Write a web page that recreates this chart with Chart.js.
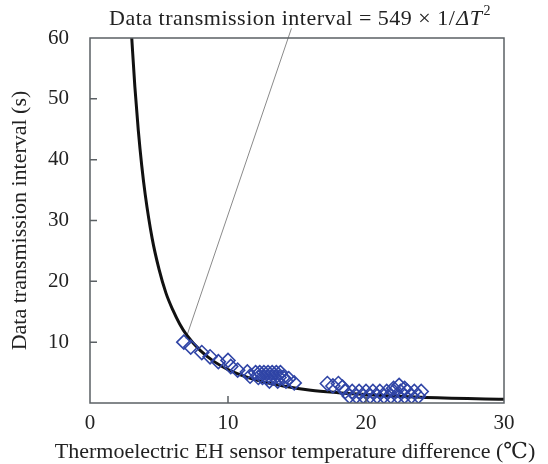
<!DOCTYPE html>
<html><head><meta charset="utf-8">
<script src="https://cdn.jsdelivr.net/npm/chart.js@4/dist/chart.umd.min.js"></script>
<style>html,body{margin:0;padding:0;background:#fff;}#wrap{width:548px;height:464px;}</style>
</head><body><div id="wrap"><canvas id="c" width="548" height="464"></canvas></div>
<script>
const xTicks = [0, 10, 20, 30];
const yTicks = [10, 20, 30, 40, 50, 60];
const measuredX = [6.8,7.3,8.1,8.7,9.3,10.0,10.2,10.7,11.4,11.6,
  12.0,12.3,12.6,12.9,13.2,13.5,13.8,12.2,12.5,12.8,13.1,13.4,13.7,14.0,13.0,13.6,14.2,14.4,14.8,
  17.2,17.6,18.0,18.3,22.0,22.4,22.8,
  18.5,19.0,19.5,20.0,20.5,21.0,21.5,22.0,22.5,23.0,23.5,24.0,
  18.8,19.3,19.8,20.3,20.8,21.3,21.8,22.3,22.8,23.3,23.8];
const measuredY = [10.0,9.2,8.3,7.6,6.8,7.0,6.0,5.4,5.1,4.4,
  5.0,5.0,5.0,5.0,5.0,5.0,5.0,4.2,4.2,4.2,4.2,4.2,4.2,4.2,3.6,3.6,3.6,4.0,3.3,
  3.2,2.8,3.2,2.6,2.4,2.9,2.4,
  1.9,1.9,1.9,1.9,1.9,1.9,1.9,1.9,1.9,1.9,1.9,1.9,
  1.1,1.1,1.1,1.1,1.1,1.1,1.1,1.1,1.1,1.1,1.1];
const fitX = [3.02,3.25,3.5,3.75,4,4.5,5,5.5,6,6.5,7,8,9,10,12,14,16,18,20,24,30];
const fitY = [60.2,52.0,44.8,39.0,34.3,27.1,22.0,18.1,15.3,13.0,11.2,8.6,6.8,5.5,3.8,2.8,2.1,1.7,1.4,0.95,0.61];
const leaderX = [6.95, 14.6];
const leaderY = [10.6, 61.6];
const formulaText = ['Data transmission interval = 549 \u00d7 1/', '\u0394T', '2'];
const xTitle = 'Thermoelectric EH sensor temperature difference (\u2103)';
const yTitle = 'Data transmission interval (s)';

const pts = (xs, ys) => xs.map((x, i) => ({x: x, y: ys[i]}));
const axisColor = '#5b6064';
const SERIF = '"Liberation Serif", "DejaVu Serif", serif';

const framePlugin = {
  id: 'frame',
  afterDatasetsDraw(chart) {
    const {ctx, chartArea: a, scales: {x, y}} = chart;
    ctx.save();
    ctx.strokeStyle = axisColor;
    ctx.lineWidth = 1.5;
    ctx.strokeRect(a.left, a.top, a.right - a.left, a.bottom - a.top);
    ctx.beginPath();
    xTicks.forEach(v => { const p = x.getPixelForValue(v); if (v > 0 && v < 30) { ctx.moveTo(p, a.bottom); ctx.lineTo(p, a.bottom - 7); } });
    yTicks.forEach(v => { const p = y.getPixelForValue(v); if (v < 60) { ctx.moveTo(a.left, p); ctx.lineTo(a.left + 7, p); } });
    ctx.stroke();
    ctx.fillStyle = '#222';
    ctx.textBaseline = 'alphabetic';
    ctx.font = '22px ' + SERIF;
    ctx.textAlign = 'center';
    ctx.fillText(xTitle, (a.left + a.right) / 2 - 2, 458);
    ctx.textAlign = 'left';
    ctx.letterSpacing = '0.5px';
    let tx = 109, ty = 25;
    ctx.fillText(formulaText[0], tx, ty);
    tx += ctx.measureText(formulaText[0]).width + 1;
    ctx.font = 'italic 22px ' + SERIF;
    ctx.fillText(formulaText[1], tx, ty);
    tx += ctx.measureText(formulaText[1]).width + 1;
    ctx.font = '14px ' + SERIF;
    ctx.fillText(formulaText[2], tx, ty - 10);
    ctx.restore();
  }
};

new Chart(document.getElementById('c'), {
  type: 'scatter',
  data: {
    datasets: [
      {
        type: 'line', data: pts(leaderX, leaderY), borderColor: '#8a8a8a', borderWidth: 1,
        pointRadius: 0, clip: false, order: 3
      },
      {
        type: 'line', data: pts(fitX, fitY), borderColor: '#111', borderWidth: 3,
        pointRadius: 0, cubicInterpolationMode: 'monotone', order: 2
      },
      {
        data: pts(measuredX, measuredY), pointStyle: 'rectRot', pointRadius: 7,
        backgroundColor: 'rgba(0,0,0,0)', borderColor: '#3045a6', borderWidth: 1.6, order: 1
      }
    ]
  },
  options: {
    responsive: false, animation: false, devicePixelRatio: 1,
    layout: {padding: {top: 38, right: 44, bottom: 0, left: 0}},
    plugins: {legend: {display: false}, tooltip: {enabled: false}},
    scales: {
      x: {
        type: 'linear', min: 0, max: 30,
        afterBuildTicks: s => { s.ticks = xTicks.map(v => ({value: v})); },
        afterFit: s => { s.height = 61; },
        grid: {display: false}, border: {display: false},
        ticks: {color: '#222', font: {family: SERIF, size: 21}, padding: 0},
        title: {display: false}
      },
      y: {
        type: 'linear', min: 0, max: 60,
        afterBuildTicks: s => { s.ticks = yTicks.map(v => ({value: v})); },
        afterFit: s => { s.width = 90; },
        grid: {display: false}, border: {display: false},
        ticks: {color: '#222', font: {family: SERIF, size: 21}, padding: 13},
        title: {display: true, text: yTitle, color: '#222',
                font: {family: SERIF, size: 22}, padding: {top: 7, bottom: 0}}
      }
    }
  },
  plugins: [framePlugin]
});
</script></body></html>
